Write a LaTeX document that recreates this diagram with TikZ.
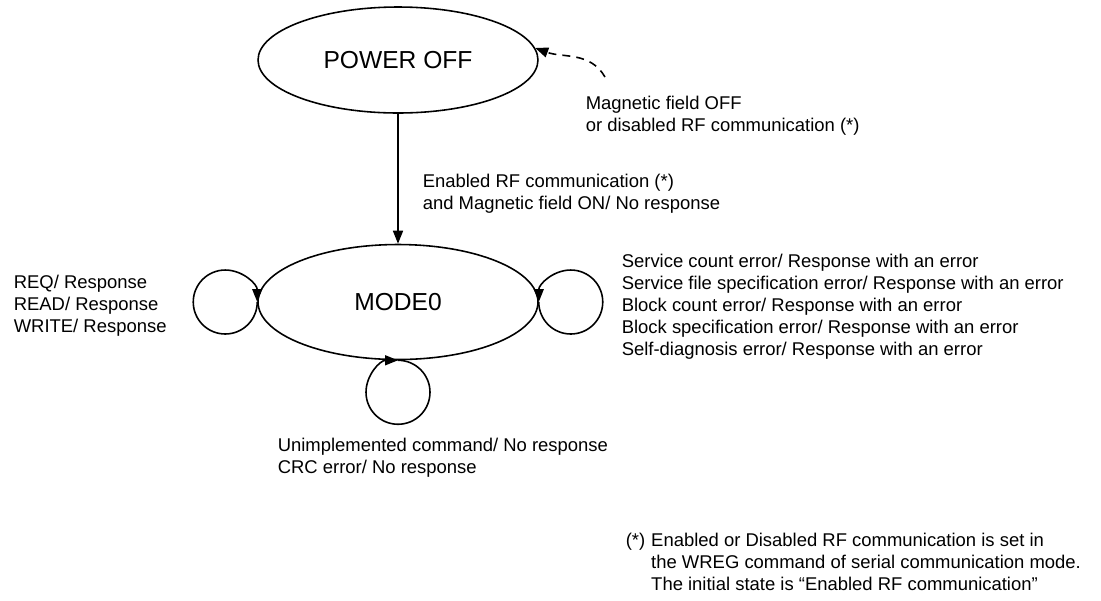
\documentclass[tikz,border=0pt]{standalone}
\usepackage{fontspec}
\setmainfont{Liberation Sans}
\usetikzlibrary{shapes.geometric,arrows.meta}

\begin{document}
\begin{tikzpicture}[x=0.02cm, y=-0.02cm, line width=0.9pt, state/.style={ellipse, draw, minimum width=5.6cm, inner sep=0pt, font=\fontsize{14}{16}\selectfont}, lbl/.style={anchor=west, align=left, inner sep=0pt, font=\fontsize{10.5}{12.5}\selectfont}, arr/.style={-{Triangle[length=2.6mm, width=2mm]}}]
	\useasboundingbox (0,0) rectangle (1101,600);

	\node (PowerOff) [state, minimum height=2.12cm] at (398,60) {POWER OFF};
	\node (Mode0) [state, minimum height=2.3cm] at (398,302) {MODE0};
	\coordinate (OffStart) at (605,77);

	\draw[arr] (PowerOff) -- (Mode0);
	\draw[arr, dash pattern=on 4.5pt off 3.5pt] (OffStart) to[out=120, in=-20] (PowerOff.5);
	\draw[arr] (Mode0.west) arc[start angle=0, end angle=-360, radius=0.64cm];
	\draw[arr] (Mode0.east) arc[start angle=180, end angle=540, radius=0.64cm];
	\draw[arr] (Mode0.south) arc[start angle=90, end angle=-270, radius=0.64cm];

	\node (OffLabel) [lbl] at (585,116) {Magnetic field OFF\\or disabled RF communication (*)};
	\node (OnLabel) [lbl] at (422,194) {Enabled RF communication (*)\\and Magnetic field ON/ No response};
	\node (LeftLabel) [lbl] at (13,306) {REQ/ Response\\READ/ Response\\WRITE/ Response};
	\node (RightLabel) [lbl] at (621,307) {Service count error/ Response with an error\\Service file specification error/ Response with an error\\Block count error/ Response with an error\\Block specification error/ Response with an error\\Self-diagnosis error/ Response with an error};
	\node (BottomLabel) [lbl] at (277,458) {Unimplemented command/ No response\\CRC error/ No response};
	\node (Footnote) [lbl] at (625,564) {\begin{tabular}{@{}l@{\hspace{3.4pt}}l@{}}(*) & Enabled or Disabled RF communication is set in\\ & the WREG command of serial communication mode.\\ & The initial state is “Enabled RF communication”\end{tabular}};
\end{tikzpicture}
\end{document}
